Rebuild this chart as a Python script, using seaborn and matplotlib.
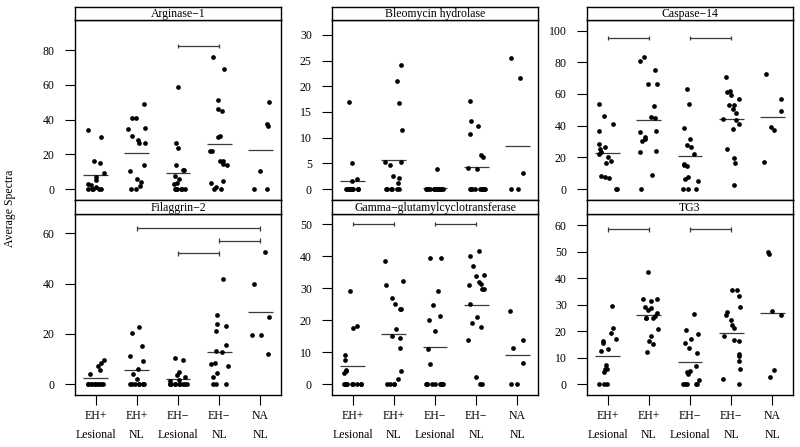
import numpy as np
import pandas as pd
import seaborn as sns
import matplotlib.pyplot as plt

# groups on the x axis
groups = ['EH+\nLesional', 'EH+\nNL', 'EH\u2212\nLesional', 'EH\u2212\nNL', 'NA\nNL']
genes = ['Arginase\u22121', 'Bleomycin hydrolase', 'Caspase\u221214',
         'Filaggrin\u22122', 'Gamma\u2212glutamylcyclotransferase', 'TG3']

# average spectra per sample, one list per group
arginase = [
    [33.8, 29.9, 15.9, 15.2, 9.4, 7.1, 5.2, 2.9, 2.3, 1.0, 0, 0, 0, 0, 0],
    [48.9, 40.7, 40.7, 35.3, 34.5, 26.7, 26.7, 30.5, 28.2, 14.0, 10.6, 5.8, 4.2, 1.9, 0, 0],
    [58.7, 26.3, 23.6, 14.0, 10.7, 10.7, 7.5, 5.8, 3.1, 3.3, 0, 0, 0, 0, 0, 0, 0],
    [75.8, 68.9, 51.2, 45.9, 45.1, 30.5, 29.7, 22.1, 22.1, 15.9, 15.9, 14.4, 14.0, 4.6, 3.3, 1.0, 0, 0],
    [50.3, 36.1, 37.4, 10.4, 0, 0],
]
bleomycin = [
    [17.0, 5.05, 1.9, 1.55, 0, 0, 0, 0, 0, 0, 0, 0, 0, 0, 0, 0],
    [24.2, 21.1, 16.7, 11.5, 5.3, 5.3, 4.6, 2.6, 2.2, 1.2, 0, 0, 0, 0, 0, 0],
    [3.95, 0, 0, 0, 0, 0, 0, 0, 0, 0, 0, 0, 0, 0, 0],
    [17.2, 13.2, 12.3, 10.8, 6.7, 6.2, 4.1, 3.95, 0, 0, 0, 0, 0, 0, 0, 0, 0, 0],
    [25.6, 21.6, 3.1, 0, 0],
]
caspase = [
    [53.5, 45.9, 41.3, 36.8, 28.4, 26.7, 25.3, 23.4, 22.1, 20.2, 17.9, 16.4, 8.0, 7.6, 6.7, 0, 0],
    [83.4, 80.8, 75.4, 66.5, 66.5, 52.4, 44.8, 45.7, 36.6, 36.2, 33.1, 31.8, 30.5, 24.0, 23.2, 8.8, 0],
    [63.4, 53.9, 38.7, 31.4, 26.7, 27.6, 21.9, 15.4, 15.6, 14.5, 7.6, 6.5, 4.8, 0, 0, 0],
    [70.5, 62.1, 61.0, 59.4, 56.8, 53.3, 52.8, 50.5, 47.8, 44.0, 43.6, 41.0, 38.1, 25.3, 19.4, 16.6, 2.3],
    [72.4, 56.6, 49.3, 39.0, 37.1, 17.1],
]
filaggrin = [
    [9.8, 8.4, 7.1, 5.7, 3.9, 0, 0, 0, 0, 0, 0, 0, 0, 0, 0],
    [22.7, 20.5, 15.2, 11.2, 9.2, 6.1, 3.9, 2.1, 0, 0, 0, 0, 0, 0, 0, 0],
    [10.5, 9.6, 4.9, 3.5, 2.7, 1.2, 1.7, 0, 0, 0, 0, 0, 0, 0, 0, 0, 0],
    [42.0, 27.4, 23.9, 23.0, 21.0, 15.7, 13.0, 13.4, 8.1, 8.4, 7.4, 4.4, 2.8, 0, 0, 0],
    [52.7, 40.0, 26.7, 19.6, 19.4, 12.0],
]
gamma = [
    [29.1, 18.2, 17.7, 9.2, 7.5, 4.6, 4.1, 3.5, 0, 0, 0, 0, 0, 0, 0, 0, 0],
    [38.5, 32.3, 30.9, 27.1, 25.2, 23.6, 23.6, 17.4, 15.0, 14.4, 11.4, 4.1, 1.8, 0, 0, 0, 0],
    [39.5, 39.4, 29.0, 24.8, 21.4, 20.2, 16.7, 11.1, 6.2, 0, 0, 0, 0, 0, 0, 0, 0, 0],
    [41.6, 40.0, 37.1, 34.1, 33.7, 32.0, 31.4, 31.0, 29.9, 29.9, 25.2, 20.9, 19.2, 17.9, 13.8, 2.4, 0, 0],
    [22.8, 13.9, 11.2, 6.6, 0, 0],
]
tg3 = [
    [29.6, 21.2, 19.3, 17.1, 16.3, 15.5, 12.5, 13.2, 7.4, 5.8, 5.7, 4.8, 0, 0, 0],
    [42.5, 32.1, 32.3, 31.5, 28.9, 29.0, 28.1, 26.8, 25.2, 25.2, 25.6, 25.0, 20.8, 18.2, 16.3, 15.4, 12.1],
    [26.5, 20.5, 19.0, 17.0, 15.6, 13.6, 11.8, 6.8, 4.9, 4.5, 3.9, 1.6, 0, 0, 0, 0, 0],
    [35.4, 35.4, 33.4, 29.0, 27.1, 26.3, 24.3, 22.4, 21.2, 18.4, 16.9, 16.4, 11.6, 10.8, 8.7, 5.8, 1.9, 0],
    [49.9, 49.0, 27.6, 26.3, 5.5, 2.9],
]

# group means (horizontal bars)
means_arginase = [8.1, 20.7, 9.2, 25.7, 22.3]
means_bleomycin = [1.55, 5.6, 0.26, 4.2, 8.4]
means_caspase = [22.5, 43.6, 20.8, 44.4, 45.5]
means_filaggrin = [2.3, 5.6, 2.0, 12.8, 28.6]
means_gamma = [5.65, 15.8, 11.7, 24.7, 9.2]
means_tg3 = [10.8, 26.0, 8.3, 19.4, 27.0]

# significance brackets: (from group, to group, height)
brackets_arginase = [(2, 3, 82.5)]
brackets_bleomycin = []
brackets_caspase = [(0, 1, 95.2), (2, 3, 95.2)]
brackets_filaggrin = [(1, 4, 62.0), (3, 4, 57.1), (2, 3, 52.0)]
brackets_gamma = [(0, 1, 50.0), (2, 3, 50.0)]
brackets_tg3 = [(0, 1, 58.4), (2, 3, 58.4)]

values = [arginase, bleomycin, caspase, filaggrin, gamma, tg3]
means = [means_arginase, means_bleomycin, means_caspase,
         means_filaggrin, means_gamma, means_tg3]
brackets = [brackets_arginase, brackets_bleomycin, brackets_caspase,
            brackets_filaggrin, brackets_gamma, brackets_tg3]

ylims = [(-6.3, 97.3), (-2.14, 32.9), (-6.9, 106.7),
         (-4.3, 67.7), (-3.35, 53.2), (-4.0, 64.2)]
yticks = [range(0, 81, 20), range(0, 31, 5), range(0, 101, 20),
          range(0, 61, 20), range(0, 51, 10), range(0, 61, 10)]

rows = []
for gene, per_group in zip(genes, values):
    for grp, vals in zip(groups, per_group):
        for v in vals:
            rows.append((gene, grp, v))
df = pd.DataFrame(rows, columns=['gene', 'group', 'value'])

sns.set_theme(style='ticks')
plt.rcParams['font.family'] = ['Liberation Serif', 'DejaVu Serif']
plt.rcParams['font.size'] = 8.5
np.random.seed(7)

fig = plt.figure(figsize=(8, 4.47), dpi=100)
W, H = 800, 447
col_left = [75, 332, 587]
pw = 206
row_px = [(7, 20, 200), (200, 214, 395)]  # strip top, plot top, plot bottom


def box(x0, y0, x1, y1):
    return [x0 / W, 1 - y1 / H, (x1 - x0) / W, (y1 - y0) / H]


for k, gene in enumerate(genes):
    r, c = divmod(k, 3)
    st, pt, pb = row_px[r]
    ax = fig.add_axes(box(col_left[c], pt, col_left[c] + pw, pb))
    sub = df[df['gene'] == gene]
    sns.stripplot(data=sub, x='group', y='value', order=groups, color='black',
                  size=3.4, jitter=0.22, linewidth=0, ax=ax)
    for i, m in enumerate(means[k]):
        ax.hlines(m, i - 0.3, i + 0.3, color='#3a3a3a', lw=0.9)
    lo, hi = ylims[k]
    cap = (hi - lo) * 0.012
    for a, b, y in brackets[k]:
        ax.hlines(y, a, b, color='#3a3a3a', lw=0.9)
        ax.vlines([a, b], y - cap, y + cap, color='#3a3a3a', lw=0.9)
    ax.set_xlim(-0.5, 4.5)
    ax.set_ylim(lo, hi)
    ax.set_yticks(list(yticks[k]))
    ax.set_xlabel('')
    ax.set_ylabel('')
    for s in ax.spines.values():
        s.set_visible(True)
        s.set_color('black')
        s.set_linewidth(1.0)
    ax.tick_params(axis='y', direction='out', length=7.5, width=0.8, pad=7,
                   colors='black', labelsize=8.5, left=True)
    if r == 1:
        ax.set_xticks(range(len(groups)))
        ax.set_xticklabels(groups, linespacing=1.75)
        ax.tick_params(axis='x', direction='out', length=7, width=0.8, pad=4,
                       colors='black', labelsize=8.5, bottom=True)
    else:
        ax.tick_params(axis='x', bottom=False, labelbottom=False)

    sax = fig.add_axes(box(col_left[c], st, col_left[c] + pw, pt))
    sax.set_xticks([])
    sax.set_yticks([])
    sax.set_facecolor('white')
    for s in sax.spines.values():
        s.set_color('black')
        s.set_linewidth(1.0)
    sax.text(0.5, 0.45, gene, ha='center', va='center', fontsize=8.5,
             color='black', transform=sax.transAxes)

fig.text(10 / W, 1 - 208 / H, 'Average Spectra', rotation=90,
         ha='center', va='center', fontsize=8.5, color='black')

fig.savefig('out.png', dpi=100, facecolor='white')
